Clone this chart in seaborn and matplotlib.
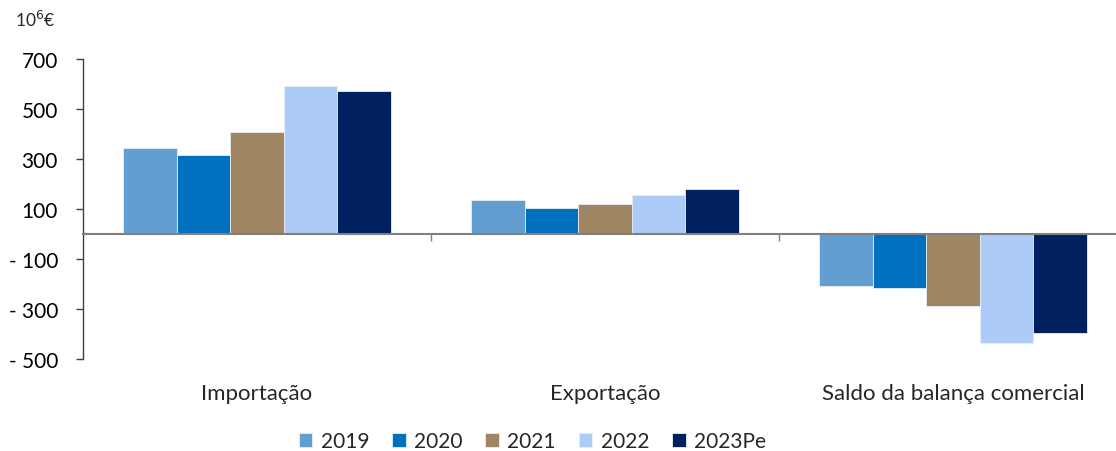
import matplotlib
matplotlib.use("Agg")
import matplotlib.pyplot as plt
from matplotlib.ticker import FuncFormatter, FixedLocator
import seaborn as sns
import pandas as pd

# Values in millions of euros
categorias = ["Importação", "Exportação", "Saldo da balança comercial"]
anos = ["2019", "2020", "2021", "2022", "2023Pe"]
importacao = [344, 318, 408, 592, 574]
exportacao = [136, 104, 121, 155, 180]
saldo = [-208, -214, -287, -437, -394]
cores = ["#629FD0", "#0070C0", "#A08563", "#ADCBF7", "#002060"]
y_ticks = [-500, -300, -100, 100, 300, 500, 700]

rows = []
for cat, vals in zip(categorias, [importacao, exportacao, saldo]):
    for ano, v in zip(anos, vals):
        rows.append({"categoria": cat, "ano": ano, "valor": v})
df = pd.DataFrame(rows)

sns.set_style("white")
plt.rcParams["font.family"] = ["Lato", "DejaVu Sans"]

fig = plt.figure(figsize=(11.16, 4.52), dpi=100)
ax = fig.add_axes([83 / 1116, 1 - 360 / 452, 1 - 83 / 1116, 300 / 452])

sns.barplot(data=df, x="categoria", y="valor", hue="ano", hue_order=anos,
            order=categorias, palette=cores, saturation=1, width=0.77, ax=ax,
            edgecolor="#E8EEF6", linewidth=0.6, legend=True)

ax.set_ylim(-500, 700)
ax.set_xlim(-0.5, -0.5 + 1033 / 348)
ax.set_xlabel("")
ax.set_ylabel("")

# Y axis
ax.yaxis.set_major_locator(FixedLocator(y_ticks))
ax.yaxis.set_major_formatter(FuncFormatter(
    lambda v, p: f"- {abs(v):.0f}" if v < 0 else f"{v:.0f}"))
ax.tick_params(axis="y", direction="out", length=5, width=1, color="#404040",
               pad=13, labelsize=15, labelcolor="#000000", left=True)
ax.spines["left"].set_color("#404040")
ax.spines["left"].set_linewidth(1)
for s in ["top", "right"]:
    ax.spines[s].set_visible(False)

# Horizontal zero line acts as the category axis
ax.spines["bottom"].set_position(("data", 0))
ax.spines["bottom"].set_color("#808080")
ax.spines["bottom"].set_linewidth(1.5)
ax.set_xticks([0, 1, 2])
ax.set_xticklabels([])
ax.tick_params(axis="x", which="major", length=0)
ax.set_xticks([0.5, 1.5], minor=True)
ax.tick_params(axis="x", which="minor", direction="out", length=5, width=1,
               color="#808080", bottom=True)

# Category labels below the plot area
sec = ax.secondary_xaxis("bottom")
sec.set_xticks([0, 1, 2])
sec.set_xticklabels(categorias)
sec.tick_params(length=0, pad=17, labelsize=16)
sec.spines["bottom"].set_visible(False)

# Unit label
fig.text(15 / 1116, 1 - 20 / 452, "10$^{6}$€", fontsize=12.5, va="center", ha="left")

# Legend at the bottom
handles, labels = ax.get_legend_handles_labels()
ax.get_legend().remove()
fig.legend(handles, labels, loc="center", bbox_to_anchor=(0.477, 0.022),
           ncol=5, frameon=False, fontsize=15, handlelength=0.65,
           handleheight=0.65, handletextpad=0.4, columnspacing=1.1)

fig.savefig("out.png", dpi=100)
